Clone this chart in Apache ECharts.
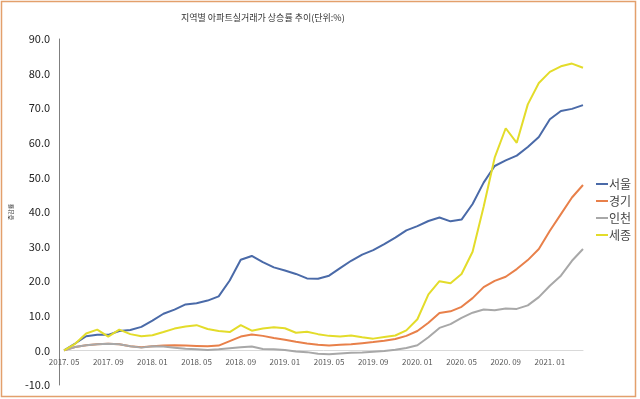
<!DOCTYPE html>
<html>
<head>
<meta charset="utf-8">
<script src="https://cdn.jsdelivr.net/npm/echarts@6/dist/echarts.min.js"></script>
<style>
  html, body { margin: 0; padding: 0; background: #fff; }
  #chart { width: 640px; height: 399px; }
</style>
</head>
<body>
<div id="chart"></div>
<script>
// 월별 카테고리 (2017.05 ~ 2021.04)
var months = [
    '2017. 05', '2017. 06', '2017. 07', '2017. 08', '2017. 09', '2017. 10', '2017. 11', '2017. 12',
    '2018. 01', '2018. 02', '2018. 03', '2018. 04', '2018. 05', '2018. 06', '2018. 07', '2018. 08',
    '2018. 09', '2018. 10', '2018. 11', '2018. 12', '2019. 01', '2019. 02', '2019. 03', '2019. 04',
    '2019. 05', '2019. 06', '2019. 07', '2019. 08', '2019. 09', '2019. 10', '2019. 11', '2019. 12',
    '2020. 01', '2020. 02', '2020. 03', '2020. 04', '2020. 05', '2020. 06', '2020. 07', '2020. 08',
    '2020. 09', '2020. 10', '2020. 11', '2020. 12', '2021. 01', '2021. 02', '2021. 03', '2021. 04'
];
var seriesNames = ['서울', '경기', '인천', '세종'];
var seoul = [
    0, 2.0, 4.1, 4.5, 4.5, 5.6, 5.9, 6.8, 8.6, 10.6, 11.8, 13.3, 13.6, 14.4, 15.6, 20.2,
    26.2, 27.3, 25.5, 24.0, 23.1, 22.1, 20.8, 20.7, 21.6, 23.8, 25.9, 27.7, 29.0, 30.7, 32.6, 34.7,
    35.9, 37.4, 38.4, 37.3, 37.8, 42.3, 48.5, 53.3, 54.9, 56.3, 58.8, 61.7, 66.8, 69.2, 69.8, 70.9
];
var gyeonggi = [
    0, 1.0, 1.5, 1.8, 1.9, 1.8, 1.2, 0.9, 1.2, 1.4, 1.5, 1.4, 1.3, 1.2, 1.4, 2.7,
    4.0, 4.6, 4.2, 3.6, 3.1, 2.5, 2.0, 1.6, 1.4, 1.6, 1.8, 2.1, 2.4, 2.8, 3.3, 4.2,
    5.6, 8.0, 10.8, 11.3, 12.6, 15.1, 18.3, 20.1, 21.3, 23.5, 26.1, 29.3, 34.6, 39.4, 44.2, 47.8
];
var incheon = [
    0, 1.0, 1.5, 1.8, 1.9, 1.8, 1.2, 0.8, 1.2, 1.1, 0.8, 0.5, 0.3, 0.1, 0.3, 0.6,
    0.9, 1.1, 0.4, 0.3, 0.1, -0.3, -0.5, -1.0, -1.1, -0.9, -0.7, -0.6, -0.4, -0.2, 0.2, 0.7,
    1.5, 3.8, 6.5, 7.6, 9.4, 10.9, 11.8, 11.6, 12.1, 12.0, 13.0, 15.4, 18.7, 21.6, 25.9, 29.3
];
var sejong = [
    0, 1.9, 4.9, 6.0, 4.0, 6.0, 4.7, 4.1, 4.4, 5.3, 6.3, 6.9, 7.3, 6.2, 5.6, 5.3,
    7.3, 5.7, 6.3, 6.7, 6.4, 5.1, 5.4, 4.7, 4.2, 4.0, 4.3, 3.8, 3.4, 3.9, 4.3, 5.8,
    9.0, 16.2, 20.0, 19.4, 22.1, 28.5, 41.5, 55.7, 64.2, 60.0, 71.1, 77.3, 80.5, 82.1, 82.9, 81.7
];
var colors = ['#4a6aa8', '#e8804a', '#a8a8a8', '#e3dc2a'];

var font = '"Noto Sans CJK KR", "Noto Sans", sans-serif';
var chart = echarts.init(document.getElementById('chart'));

// 그리드 높이 기준으로 x축을 0 위치로 올림
var gridTop = 39, gridBottom = 14;
var yMin = -10, yMax = 90;
var gridH = 399 - gridTop - gridBottom;
var zeroOffset = -gridH * (0 - yMin) / (yMax - yMin);

function makeLine(name, data, color) {
    return {
        name: name,
        type: 'line',
        data: data,
        symbol: 'none',
        smooth: false,
        lineStyle: { color: color, width: 2 },
        itemStyle: { color: color }
    };
}

var option = {
    animation: false,
    textStyle: { fontFamily: font },
    title: {
        text: '지역별 아파트실거래가 상승률 추이(단위:%)',
        left: 176,
        top: 8,
        textStyle: { fontSize: 9, fontWeight: 'normal', color: '#333', fontFamily: font }
    },
    legend: {
        orient: 'vertical',
        left: 591,
        top: 173,
        icon: 'rect',
        itemWidth: 12,
        itemHeight: 2,
        itemGap: 5,
        textStyle: { fontSize: 12, color: '#444', padding: [0, 0, 0, -4], fontFamily: font },
        data: seriesNames
    },
    grid: { left: 62, right: 57, top: gridTop, bottom: gridBottom, containLabel: false },
    xAxis: {
        type: 'category',
        data: months,
        boundaryGap: false,
        offset: zeroOffset,
        axisLine: { onZero: false, lineStyle: { color: '#d9d9d9', width: 1 } },
        axisTick: { show: false },
        axisLabel: { interval: 3, fontSize: 8, color: '#595959', margin: 8, fontFamily: font },
        splitLine: { show: false }
    },
    yAxis: {
        type: 'value',
        min: yMin,
        max: yMax,
        interval: 10,
        offset: 5,
        name: '증감률',
        nameLocation: 'middle',
        nameRotate: 90,
        nameGap: 42,
        nameTextStyle: { fontSize: 6, color: '#333', fontFamily: font },
        axisLine: { show: true, lineStyle: { color: '#7f7f7f', width: 1 } },
        axisTick: { show: false },
        splitLine: { show: false },
        axisLabel: {
            fontSize: 11,
            color: '#222',
            margin: 9,
            fontFamily: font,
            formatter: function(v) { return v.toFixed(1); }
        }
    },
    graphic: [{
        type: 'rect',
        shape: { x: 1.5, y: 1.5, width: 634, height: 395 },
        style: { fill: 'none', stroke: '#e3a06c', lineWidth: 1.5 },
        silent: true
    }],
    series: [
        makeLine(seriesNames[0], seoul, colors[0]),
        makeLine(seriesNames[1], gyeonggi, colors[1]),
        makeLine(seriesNames[2], incheon, colors[2]),
        makeLine(seriesNames[3], sejong, colors[3])
    ]
};
chart.setOption(option);
</script>
</body>
</html>
